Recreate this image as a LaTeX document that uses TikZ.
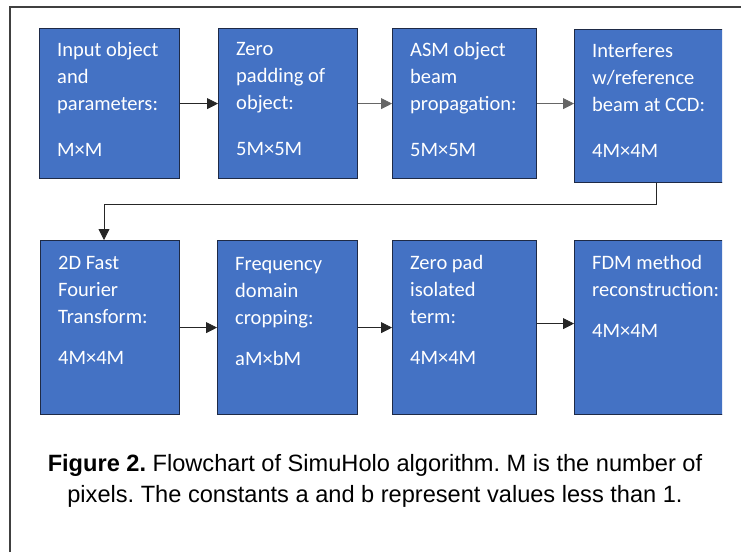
\documentclass[tikz,border=0pt]{standalone}
\usepackage{fontspec}
\setmainfont{Carlito}
\newfontfamily\capfont{Liberation Sans}
\usetikzlibrary{positioning,arrows.meta}

\definecolor{boxblue}{RGB}{68,114,196}
\definecolor{boxedge}{RGB}{30,42,70}

\begin{document}
\frenchspacing
\begin{tikzpicture}[x=1pt, y=-1pt,
  stage/.style={draw=boxedge, line width=1.2pt, fill=boxblue, inner sep=0pt, anchor=north west},
  stagetext/.style={text=white, font=\fontsize{20.5}{27}\selectfont, align=left, anchor=north west, inner sep=0pt},
  flow/.style={-{Triangle[length=11pt,width=11pt]}, line width=0.8pt, black!85}]
\useasboundingbox (0,0) rectangle (741,552);
\draw[line width=1.2pt, black!75] (10,552) -- (10,7) -- (741,7);
% the figure is cut on the right, as in the scan
\begin{scope}
\clip (0,0) rectangle (722,552);
\node[stage, minimum width=140pt, minimum height=150pt] (b1) at (39,28) {};
\node[stage, minimum width=139pt, minimum height=150pt] (b2) at (218,28) {};
\node[stage, minimum width=144pt, minimum height=150pt] (b3) at (392,28) {};
\node[stage, minimum width=164pt, minimum height=153pt] (b4) at (574,29) {};
\node[stage, minimum width=139pt, minimum height=174pt] (b5) at (40,240) {};
\node[stage, minimum width=140pt, minimum height=174pt] (b6) at (217,240) {};
\node[stage, minimum width=144pt, minimum height=174pt] (b7) at (392,240) {};
\node[stage, minimum width=164pt, minimum height=174pt] (b8) at (574,240) {};
\end{scope}
\node[stagetext] (t1) at ([shift={(18pt,-14pt)}]b1.north west) {Input object\\and\\parameters:\\[19pt]M×M};
\node[stagetext] (t2) at ([shift={(18pt,-14pt)}]b2.north west) {Zero\\padding of\\object:\\[19pt]5M×5M};
\node[stagetext] (t3) at ([shift={(18pt,-14pt)}]b3.north west) {ASM object\\beam\\propagation:\\[19pt]5M×5M};
\node[stagetext] (t4) at ([shift={(18pt,-14pt)}]b4.north west) {Interferes\\w/reference\\beam at CCD:\\[19pt]4M×4M};
\node[stagetext] (t5) at ([shift={(18pt,-16pt)}]b5.north west) {2D Fast\\Fourier\\Transform:\\[14pt]4M×4M};
\node[stagetext] (t6) at ([shift={(18pt,-17pt)}]b6.north west) {Frequency\\domain\\cropping:\\[14pt]aM×bM};
\node[stagetext] (t7) at ([shift={(18pt,-15pt)}]b7.north west) {Zero pad\\isolated\\term:\\[14pt]4M×4M};
\node[stagetext] (t8) at ([shift={(18pt,-15pt)}]b8.north west) {FDM method\\reconstruction:\\[14pt]4M×4M};
\draw[flow] (b1.east) -- (b2.west);
\draw[flow, black!60] (b2.east) -- (b3.west);
\draw[flow, black!60] (b3.east) -- (b3.east -| b4.west);
\coordinate (turn) at (104,204);
\draw[flow] (b4.south) |- (turn) -- (turn |- b5.north);
\draw[flow] (b5.east) -- (b6.west);
\draw[flow] (b6.east) -- (b7.west);
\draw[flow] ([yshift=4pt]b7.east) -- ([yshift=4pt]b8.west);
\node[font=\capfont\fontsize{23.6}{31}\selectfont, align=center] (cap) at (375,481)
  {\textbf{Figure 2.} Flowchart of SimuHolo algorithm. M is the number of\\pixels. The constants a and b represent values less than 1.};
\end{tikzpicture}
\end{document}
